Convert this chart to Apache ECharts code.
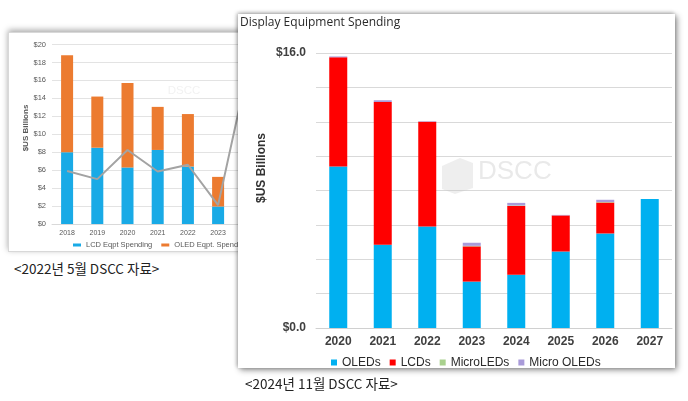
<!DOCTYPE html>
<html>
<head>
<meta charset="utf-8">
<script src="https://cdn.jsdelivr.net/npm/echarts@6/dist/echarts.min.js"></script>
<style>
  html, body { margin:0; padding:0; background:#fff; width:688px; height:401px; overflow:hidden; }
  #left { position:absolute; left:8px; top:32px; width:330px; height:220px; background:#fff;
          border:1px solid #d8d8d8; box-sizing:border-box; box-shadow:0 -2px 6px rgba(0,0,0,0.35); }
  #right { position:absolute; left:238px; top:14px; width:437px; height:354px; background:#fff;
           box-shadow:2px 2px 6px rgba(0,0,0,0.45), -1px -1px 4px rgba(0,0,0,0.3); }
  .cap { position:absolute; font-family:"Noto Sans CJK KR","Noto Sans",sans-serif; font-size:13.5px; color:#222; line-height:18px; white-space:nowrap; }
</style>
</head>
<body>
<div id="left"></div>
<div id="right"></div>
<div class="cap" style="left:14px; top:259px;">&lt;2022년 5월 DSCC 자료&gt;</div>
<div class="cap" style="left:245px; top:374px;">&lt;2024년 11월 DSCC 자료&gt;</div>
<script>
// ---- Left chart (May 2022) ----
const leftYears = ['2018','2019','2020','2021','2022','2023','2024'];
const lcdEqpt   = [8.0, 8.5, 6.3, 8.25, 6.4, 1.95, null];
const oledEqpt  = [10.8, 5.7, 9.4, 4.8, 5.85, 3.3, null];
const grayLine  = [5.9, 5.0, 8.25, 5.85, 6.6, 2.1, 17.5];
const leftTicks = [0, 2, 4, 6, 8, 10, 12, 14, 16, 18, 20];

// ---- Right chart (Nov 2024) ----
const rightYears = ['2020','2021','2022','2023','2024','2025','2026','2027'];
const oleds      = [9.4, 4.85, 5.9, 2.7, 3.1, 4.45, 5.5, 7.5];
const lcds       = [6.35, 8.3, 6.1, 2.05, 4.0, 2.1, 1.8, 0];
const microLeds  = [0, 0, 0, 0.03, 0.03, 0, 0.03, 0];
const microOleds = [0.05, 0.1, 0.03, 0.18, 0.15, 0.03, 0.13, 0];
const rightTickLabels = ['$0.0', '$16.0'];

const lc = echarts.init(document.getElementById('left'), null, {renderer:'canvas'});
const fontL = 'Liberation Sans, Arial, sans-serif';
lc.setOption({
  animation:false,
  textStyle:{fontFamily:fontL},
  grid:{left:43, top:11.5, width:211.4, height:179.5},
  legend:{
    data:['LCD Eqpt Spending','OLED Eqpt. Spending'],
    left:64, top:207.5, padding:0, icon:'rect', itemWidth:8, itemHeight:3, itemGap:9,
    textStyle:{fontSize:7.5, lineHeight:9, color:'#595959', fontFamily:fontL}
  },
  xAxis:{type:'category', data:leftYears,
    axisLine:{lineStyle:{color:'#D9D9D9'}}, axisTick:{show:false},
    axisLabel:{fontSize:7, color:'#595959', margin:6}},
  yAxis:{type:'value', min:0, max:20, interval:2,
    axisLabel:{fontSize:7.5, color:'#595959', margin:6, formatter:v=>'$'+v},
    splitLine:{lineStyle:{color:'#E3E3E3'}}, axisLine:{show:false}},
  graphic:[
    {type:'text', x:17, y:95, rotation:Math.PI/2,
     style:{text:'$US Billions', fontSize:8, fontWeight:'bold', fill:'#595959', fontFamily:fontL, textAlign:'center', textVerticalAlign:'middle'}},
    {type:'text', x:175, y:58,
     style:{text:'DSCC', fontSize:11.5, fill:'#F2F2F2', fontFamily:fontL, textAlign:'center', textVerticalAlign:'middle'}}
  ],
  series:[
    {name:'LCD Eqpt Spending', type:'bar', stack:'s', barWidth:12, data:lcdEqpt, itemStyle:{color:'#19AAE6'}},
    {name:'OLED Eqpt. Spending', type:'bar', stack:'s', barWidth:12, data:oledEqpt, itemStyle:{color:'#EC7B30'}},
    {name:'Trend', type:'line', data:grayLine, symbol:'none', z:5, lineStyle:{color:'#A3A3A3', width:2}, itemStyle:{color:'#A3A3A3'}}
  ]
});

const rc = echarts.init(document.getElementById('right'), null, {renderer:'canvas'});
const fontR = 'Liberation Sans, Arial, sans-serif';
rc.setOption({
  animation:false,
  textStyle:{fontFamily:fontR},
  grid:{left:78, top:39, width:356, height:275},
  legend:{
    data:['OLEDs','LCDs','MicroLEDs','Micro OLEDs'],
    left:93, top:342, padding:0, icon:'rect', itemWidth:6, itemHeight:6, itemGap:9,
    textStyle:{fontSize:12, lineHeight:13, color:'#2a2a2a', fontFamily:fontR}
  },
  xAxis:{type:'category', data:rightYears,
    axisLine:{lineStyle:{color:'#D0D0D0'}}, axisTick:{show:false},
    axisLabel:{fontSize:12, fontWeight:'bold', color:'#404040', margin:8}},
  yAxis:{type:'value', min:0, max:16, interval:2,
    axisLabel:{fontSize:12, fontWeight:'bold', color:'#404040', margin:10,
      formatter:v=> v===0 ? rightTickLabels[0] : (v===16 ? rightTickLabels[1] : '')},
    splitLine:{lineStyle:{color:'#D9D9D9'}}, axisLine:{show:false}},
  graphic:[
    {type:'text', left:2, top:3,
     style:{text:'Display Equipment Spending', fontSize:12, fill:'#2a2a2a', fontFamily:'Open Sans, sans-serif'}},
    {type:'text', x:24, y:154, rotation:Math.PI/2,
     style:{text:'$US Billions', fontSize:12, fontWeight:'bold', fill:'#333', fontFamily:fontR, textAlign:'center', textVerticalAlign:'middle'}},
    {type:'polygon', z:1, shape:{points:[[204,152],[222,144],[235,149],[235,174],[217,180],[204,175]]}, style:{fill:'rgba(200,200,200,0.3)'}},
    {type:'text', z:1, x:240, y:158,
     style:{text:'DSCC', fontSize:26, fill:'rgba(200,200,200,0.4)', fontFamily:fontR, textVerticalAlign:'middle'}}
  ],
  series:[
    {name:'OLEDs', type:'bar', stack:'s', barWidth:18, data:oleds, itemStyle:{color:'#00B0F0'}},
    {name:'LCDs', type:'bar', stack:'s', barWidth:18, data:lcds, itemStyle:{color:'#FF0000'}},
    {name:'MicroLEDs', type:'bar', stack:'s', barWidth:18, data:microLeds, itemStyle:{color:'#A9D18E'}},
    {name:'Micro OLEDs', type:'bar', stack:'s', barWidth:18, data:microOleds, itemStyle:{color:'#A99BD9'}}
  ]
});
</script>
</body>
</html>
